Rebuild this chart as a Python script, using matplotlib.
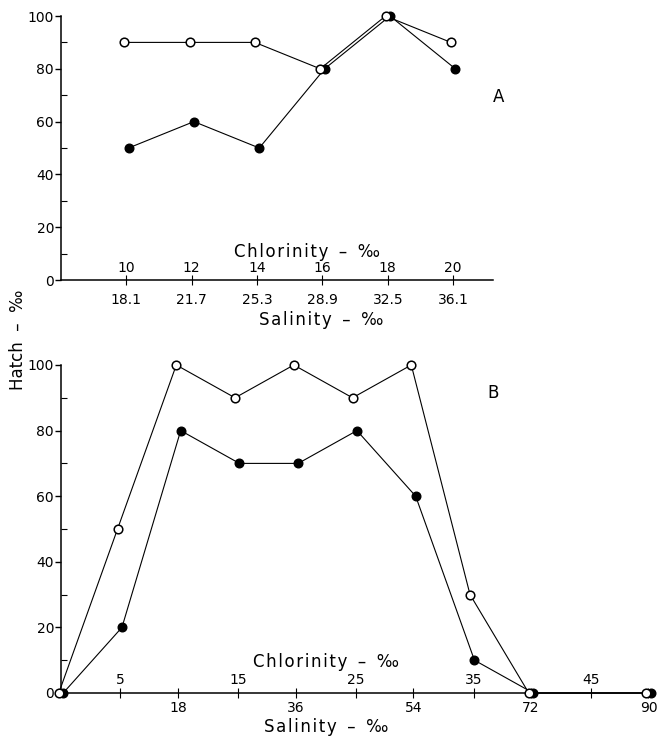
import matplotlib
matplotlib.use("Agg")
import matplotlib.pyplot as plt
import matplotlib.transforms as mtransforms
from matplotlib.ticker import MultipleLocator

# ---------------- data ----------------
# Panel A (x = chlorinity, per mille)
a_chlor = [10, 12, 14, 16, 18, 20]
a_sal_labels = ["18.1", "21.7", "25.3", "28.9", "32.5", "36.1"]
a_open = [90, 90, 90, 80, 100, 90]
a_filled = [50, 60, 50, 80, 100, 80]

# Panel B (x = salinity, per mille)
b_sal = [0, 9, 18, 27, 36, 45, 54, 63, 72, 90]
b_open = [0, 50, 100, 90, 100, 90, 100, 30, 0, 0]
b_filled = [0, 20, 80, 70, 70, 80, 60, 10, 0, 0]
b_sal_ticks = [18, 36, 54, 72, 90]
b_chlor_ticks = [5, 15, 25, 35, 45]

yticks = [0, 20, 40, 60, 80, 100]

W, H = 659, 739
fig = plt.figure(figsize=(W / 100, H / 100), dpi=100)
plt.rcParams['font.family'] = ['DejaVu Sans']

HS = "\u200a"  # hair space for letter spacing

def spaced(word):
    return HS.join(word)

CHL = spaced("Chlorinity") + "  –  ‰"
SAL = spaced("Salinity") + "  –  ‰"

def fx(px):
    return px / W

def fy(py):
    return 1 - py / H

def style_axes(ax):
    ax.spines['top'].set_visible(False)
    ax.spines['right'].set_visible(False)
    ax.spines['left'].set_linewidth(1.1)
    ax.spines['bottom'].set_linewidth(1.1)
    ax.set_ylim(0, 100)
    ax.set_yticks(yticks)
    ax.set_yticklabels([str(v) for v in yticks], fontsize=10)
    ax.yaxis.set_minor_locator(MultipleLocator(10))
    ax.tick_params(axis='y', which='major', direction='out', length=4, width=1, pad=1)
    ax.tick_params(axis='y', which='minor', direction='in', length=4, width=0.8)
    ax.tick_params(axis='x', which='both', direction='inout', length=7, width=0.8)
    ax.patch.set_alpha(0)

def plot_series(ax, x, yo, yf):
    off_l = mtransforms.ScaledTranslation(-2.2 / 100, 0, fig.dpi_scale_trans)
    off_r = mtransforms.ScaledTranslation(2.2 / 100, 0, fig.dpi_scale_trans)
    ax.plot(x, yf, '-', color='black', lw=0.8, marker='o', ms=6.2,
            mfc='black', mec='black', clip_on=False, zorder=3,
            transform=ax.transData + off_r)
    ax.plot(x, yo, '-', color='black', lw=0.8, marker='o', ms=6.2,
            mfc='white', mec='black', mew=1.1, clip_on=False, zorder=4,
            transform=ax.transData + off_l)

# ---------------- Panel A ----------------
axA = fig.add_axes([fx(61), fy(280), fx(493) - fx(61), fy(16) - fy(280)])
style_axes(axA)
axA.set_xlim(8.0, 21.22)
plot_series(axA, a_chlor, a_open, a_filled)
axA.set_xticks(a_chlor)
axA.set_xticklabels(a_sal_labels, fontsize=10)
axA.tick_params(axis='x', pad=6)
tA = axA.get_xaxis_transform()
offA = mtransforms.ScaledTranslation(0, 5 / 100, fig.dpi_scale_trans)
for c in a_chlor:
    axA.text(c, 0, str(c), transform=tA + offA, ha='center', va='bottom', fontsize=10)

fig.text(fx(307), fy(252), CHL, ha='center', va='center', fontsize=12)
fig.text(fx(321), fy(320), SAL, ha='center', va='center', fontsize=12)
fig.text(fx(499), fy(97), "A", ha='center', va='center', fontsize=12)

# ---------------- Panel B ----------------
axB = fig.add_axes([fx(61), fy(693), fx(655) - fx(61), fy(365) - fy(693)])
style_axes(axB)
axB.set_xlim(0, 91)
plot_series(axB, b_sal, b_open, b_filled)
axB.set_xticks(b_sal_ticks)
axB.set_xticklabels([str(v) for v in b_sal_ticks], fontsize=10)
chl_pos = [1.805 * c + 0.03 for c in b_chlor_ticks]
axB.set_xticks(chl_pos, minor=True)
axB.tick_params(axis='x', which='major', pad=2.5)
tB = axB.get_xaxis_transform()
offB = mtransforms.ScaledTranslation(0, 6 / 100, fig.dpi_scale_trans)
for c, p in zip(b_chlor_ticks, chl_pos):
    axB.text(p, 0, str(c), transform=tB + offB, ha='center', va='bottom', fontsize=10)

fig.text(fx(326), fy(662), CHL, ha='center', va='center', fontsize=12)
fig.text(fx(326), fy(727), SAL, ha='center', va='center', fontsize=12)
fig.text(fx(493), fy(393), "B", ha='center', va='center', fontsize=12)

# shared y label
fig.text(fx(18), fy(340), "Hatch  –  ‰", ha='center', va='center', rotation=90, fontsize=12)

fig.savefig("out.png", dpi=100)
